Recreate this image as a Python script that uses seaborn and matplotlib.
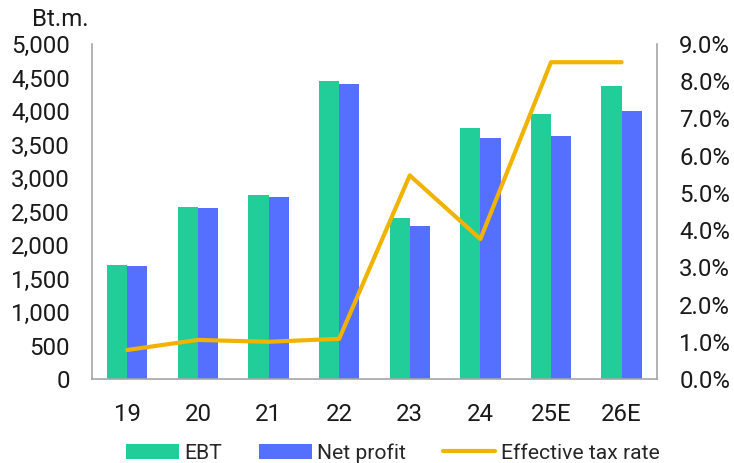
import numpy as np
import pandas as pd
import matplotlib
matplotlib.use("Agg")
import matplotlib.pyplot as plt
import seaborn as sns
from matplotlib.ticker import FuncFormatter
from matplotlib.patches import Patch
from matplotlib.lines import Line2D

categories = ["19", "20", "21", "22", "23", "24", "25E", "26E"]
ebt = [1705, 2570, 2745, 4450, 2410, 3740, 3960, 4375]
net_profit = [1690, 2545, 2715, 4400, 2280, 3600, 3620, 4000]
tax_rate = [0.78, 1.05, 1.0, 1.08, 5.47, 3.76, 8.51, 8.51]

GREEN = "#21CE99"
BLUE = "#5570FF"
YELLOW = "#F0B400"
TXT = "#1a1a1a"
FS = 17.3
LFS = 15.2

sns.set_theme(style="white")
plt.rcParams["font.family"] = ["Roboto", "DejaVu Sans"]

df = pd.DataFrame({
    "cat": categories * 2,
    "value": ebt + net_profit,
    "series": ["EBT"] * len(categories) + ["Net profit"] * len(categories),
})

fig = plt.figure(figsize=(7.34, 4.63), dpi=100)
ax = fig.add_axes([0.1253, 0.1814, 0.895 - 0.1253, 0.905 - 0.1814])

sns.barplot(data=df, x="cat", y="value", hue="series", palette=[GREEN, BLUE],
            width=0.57, saturation=1, ax=ax, legend=False, edgecolor="none")

ax.set_xlim(-0.5, len(categories) - 0.5)
ax.set_ylim(0, 5000)
ax.set_yticks(np.arange(0, 5001, 500))
ax.yaxis.set_major_formatter(FuncFormatter(lambda v, p: f"{int(v):,}"))
ax.set_xlabel("")
ax.set_ylabel("")
ax.tick_params(axis="both", labelsize=FS, colors=TXT, length=0)
ax.tick_params(axis="x", pad=17)
ax.tick_params(axis="y", pad=16)

ax2 = ax.twinx()
sns.lineplot(x=np.arange(len(categories)), y=tax_rate, color=YELLOW, linewidth=3.0, ax=ax2)
ax2.set_ylim(0, 9)
ax2.set_yticks(np.arange(0, 9.01, 1))
ax2.yaxis.set_major_formatter(FuncFormatter(lambda v, p: f"{v:.1f}%"))
ax2.tick_params(axis="y", labelsize=FS, colors=TXT, length=0, pad=16)
ax2.set_xlim(-0.5, len(categories) - 0.5)

for a in (ax, ax2):
    a.spines["top"].set_visible(False)
    for s in ["left", "bottom", "right"]:
        a.spines[s].set_color("#A6A6A6")
        a.spines[s].set_linewidth(1.2)
ax.spines["right"].set_visible(False)
ax2.spines["left"].set_visible(False)
ax2.spines["bottom"].set_visible(False)

fig.text(0.044, 0.958, "Bt.m.", fontsize=FS, color=TXT, va="center", ha="left")

handles = [Patch(facecolor=GREEN, edgecolor="none"),
           Patch(facecolor=BLUE, edgecolor="none"),
           Line2D([0], [0], color=YELLOW, linewidth=3.0)]
fig.legend(handles, ["EBT", "Net profit", "Effective tax rate"], loc="center",
           bbox_to_anchor=(0.535, 0.022), ncol=3, frameon=False, fontsize=LFS,
           handlelength=2.5, handleheight=0.7, columnspacing=1.75, handletextpad=0.25,
           borderaxespad=0, borderpad=0)

fig.savefig("out.png", dpi=100)
